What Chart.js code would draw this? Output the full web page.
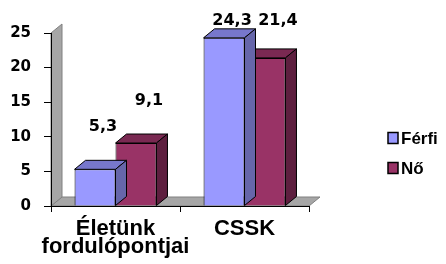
<!DOCTYPE html>
<html>
<head>
<meta charset="utf-8">
<script src="https://cdn.jsdelivr.net/npm/chart.js@4"></script>
<style>
  body { margin: 0; background: #fff; }
  #wrap { width: 446px; height: 264px; }
</style>
</head>
<body>
<div id="wrap"><canvas id="myChart" width="446" height="264"></canvas></div>
<script>
const categories = [['Életünk', 'fordulópontjai'], 'CSSK'];
const seriesNames = ['Férfi', 'Nő'];
const ferfiValues = [5.3, 24.3];
const noValues = [9.1, 21.4];
const yTicks = [0, 5, 10, 15, 20, 25];

const frontColors = ['#9999FF', '#993366'];
const topColors = ['#7777CC', '#7A2952'];
const sideColors = ['#6666AA', '#5E1F3F'];

// 3D depth offset
const DX = 11;
const DY = -9;

// gray side wall and floor, drawn before the axes
const wallPlugin = {
    id: 'wall',
    beforeDraw(chart) {
        const ctx = chart.ctx;
        const a = chart.chartArea;
        ctx.save();
        ctx.fillStyle = '#A6A6A6';
        ctx.strokeStyle = '#808080';
        ctx.lineWidth = 1;
        // floor
        ctx.beginPath();
        ctx.moveTo(a.left, a.bottom);
        ctx.lineTo(a.right, a.bottom);
        ctx.lineTo(a.right + DX, a.bottom + DY);
        ctx.lineTo(a.left + DX, a.bottom + DY);
        ctx.closePath();
        ctx.fill();
        ctx.stroke();
        // left wall
        ctx.beginPath();
        ctx.moveTo(a.left, a.bottom);
        ctx.lineTo(a.left, a.top);
        ctx.lineTo(a.left + DX, a.top + DY);
        ctx.lineTo(a.left + DX, a.bottom + DY);
        ctx.closePath();
        ctx.fill();
        ctx.stroke();
        ctx.restore();
    }
};

// top and side faces of each bar, value labels and legend
const barDepthPlugin = {
    id: 'barDepth',
    afterDatasetDraw(chart, args) {
        const ctx = chart.ctx;
        const i = args.index;
        const meta = chart.getDatasetMeta(i);
        ctx.save();
        ctx.strokeStyle = '#000';
        ctx.lineWidth = 1;
        meta.data.forEach(bar => {
            const l = bar.x - bar.width / 2;
            const r = bar.x + bar.width / 2;
            const t = bar.y;
            const b = bar.base;
            ctx.fillStyle = topColors[i];
            ctx.beginPath();
            ctx.moveTo(l, t);
            ctx.lineTo(l + DX, t + DY);
            ctx.lineTo(r + DX, t + DY);
            ctx.lineTo(r, t);
            ctx.closePath();
            ctx.fill();
            ctx.stroke();
            ctx.fillStyle = sideColors[i];
            ctx.beginPath();
            ctx.moveTo(r, t);
            ctx.lineTo(r + DX, t + DY);
            ctx.lineTo(r + DX, b + DY);
            ctx.lineTo(r, b);
            ctx.closePath();
            ctx.fill();
            ctx.stroke();
        });
        ctx.restore();
    },
    afterDatasetsDraw(chart) {
        const ctx = chart.ctx;
        ctx.save();
        // value labels
        ctx.font = 'bold 16px "DejaVu Sans"';
        ctx.fillStyle = '#000';
        ctx.textAlign = 'center';
        ctx.textBaseline = 'middle';
        chart.data.datasets.forEach((ds, i) => {
            chart.getDatasetMeta(i).data.forEach((bar, j) => {
                const txt = String(ds.data[j]).replace('.', ',');
                const y = Math.max(bar.y - 42, 21);
                ctx.fillText(txt, bar.x + (i === 0 ? 8 : 13), y);
            });
        });
        // legend
        ctx.font = 'bold 17px "Liberation Sans", Arial, sans-serif';
        ctx.textAlign = 'left';
        chart.data.datasets.forEach((ds, i) => {
            const cy = 138 + i * 30;
            ctx.fillStyle = ds.backgroundColor;
            ctx.fillRect(388, cy - 5.5, 10, 11);
            ctx.lineWidth = 1.5;
            ctx.strokeStyle = '#000';
            ctx.strokeRect(388, cy - 5.5, 10, 11);
            ctx.fillStyle = '#000';
            ctx.fillText(ds.label, 401, cy + 1);
        });
        ctx.restore();
    }
};

function createChart() {
    const ctx = document.getElementById('myChart').getContext('2d');

    new Chart(ctx, {
        type: 'bar',
        data: {
            labels: categories,
            datasets: [
                {
                    label: seriesNames[0],
                    data: ferfiValues,
                    backgroundColor: frontColors[0],
                    borderColor: '#000',
                    borderWidth: 1
                },
                {
                    label: seriesNames[1],
                    data: noValues,
                    backgroundColor: frontColors[1],
                    borderColor: '#000',
                    borderWidth: 1
                }
            ]
        },
        options: {
            responsive: false,
            animation: false,
            layout: { padding: { top: 33, right: 137, left: 0, bottom: 0 } },
            datasets: {
                bar: { categoryPercentage: 0.635, barPercentage: 1 }
            },
            plugins: {
                legend: { display: false },
                tooltip: { enabled: false }
            },
            scales: {
                x: {
                    grid: { drawOnChartArea: false, tickLength: 6, color: '#000' },
                    border: { color: '#000', width: 1 },
                    ticks: {
                        color: '#000',
                        padding: 8,
                        maxRotation: 0,
                        autoSkip: false,
                        font: { family: '"Liberation Sans", Arial, sans-serif', size: 22, weight: 'bold', lineHeight: 0.82 }
                    },
                    afterFit(scale) { scale.height = 58; }
                },
                y: {
                    min: 0,
                    max: 25,
                    afterBuildTicks(scale) { scale.ticks = yTicks.map(v => ({ value: v })); },
                    grid: { drawOnChartArea: false, tickLength: 7, color: '#000' },
                    border: { color: '#000', width: 1 },
                    ticks: {
                        color: '#000',
                        padding: 13,
                        font: { family: '"DejaVu Sans"', size: 15, weight: 'bold' }
                    },
                    afterFit(scale) { scale.width = 51; }
                }
            }
        },
        plugins: [wallPlugin, barDepthPlugin]
    });
}

// make sure the bold faces are ready before drawing
Promise.all([
    document.fonts.load('bold 22px "Liberation Sans"'),
    document.fonts.load('bold 16px "DejaVu Sans"')
]).then(createChart, createChart);
</script>
</body>
</html>
